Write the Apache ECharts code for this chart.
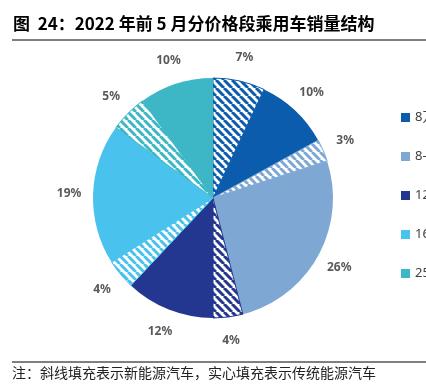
<!DOCTYPE html>
<html><head><meta charset="utf-8">
<script src="https://cdn.jsdelivr.net/npm/echarts@6/dist/echarts.min.js"></script>
<style>html,body{margin:0;padding:0;background:#fff}#c{width:426px;height:390px}</style>
</head><body><div id="c"></div>
<script>
const categories = ['8万以下', '8-12万', '12-16万', '16-25万', '25万以上'];
const nevShare = [7, 3, 4, 4, 5];
const iceShare = [10, 26, 12, 19, 10];
const colors = ['#0b5cad', '#7ea8d3', '#233690', '#4ac2ee', '#3db6c5'];
const titleText = '图  24：2022 年前 5 月分价格段乘用车销量结构';
const noteText = '注：斜线填充表示新能源汽车，实心填充表示传统能源汽车';

function hatch(color) {
  const s = 8;
  const cv = document.createElement('canvas');
  cv.width = s; cv.height = s;
  const g = cv.getContext('2d');
  g.fillStyle = '#ffffff';
  g.fillRect(0, 0, s, s);
  g.strokeStyle = color;
  g.lineWidth = 3;
  g.beginPath();
  for (let k = -1; k <= 1; k++) {
    g.moveTo(k * s, 0); g.lineTo(k * s + s, s);
  }
  g.stroke();
  return { image: cv, repeat: 'repeat' };
}

const data = [];
categories.forEach((c, i) => {
  data.push({ name: c + '新能源', value: nevShare[i],
    itemStyle: { color: hatch(colors[i]), borderColor: colors[i], borderWidth: 1 } });
  data.push({ name: c, value: iceShare[i], itemStyle: { color: colors[i] } });
});
const labelData = data.map(d => ({ name: d.name, value: d.value }));

const chart = echarts.init(document.getElementById('c'), null, { renderer: 'canvas' });
chart.setOption({
  animation: false,
  color: colors,
  title: {
    text: titleText, left: 8, top: 10,
    textStyle: { fontFamily: 'Noto Sans CJK SC', fontWeight: 'bold', fontSize: 17, color: '#000' }
  },
  legend: {
    data: categories, orient: 'vertical', left: 396, top: 106,
    itemWidth: 9, itemHeight: 9, itemGap: 26, icon: 'rect',
    textStyle: { fontFamily: 'Noto Sans, Noto Sans CJK SC', fontSize: 13, color: '#404040' },
    selectedMode: false
  },
  graphic: [
    { type: 'line', shape: { x1: 12, y1: 40, x2: 426, y2: 40 }, style: { stroke: '#000', lineWidth: 1 } },
    { type: 'line', shape: { x1: 12, y1: 362, x2: 426, y2: 362 }, style: { stroke: '#000', lineWidth: 1 } },
    { type: 'text', left: 12, top: 366,
      style: { text: noteText, font: '14px "Noto Sans CJK SC"', fill: '#222' } }
  ],
  series: [
    {
      type: 'pie', center: [213, 198], radius: [0, 120], startAngle: 90, clockwise: true,
      data: data, label: { show: false }, labelLine: { show: false }, silent: true
    },
    {
      type: 'pie', center: [213, 198], radius: [128, 154], startAngle: 90, clockwise: true,
      data: labelData, silent: true,
      itemStyle: { color: 'rgba(0,0,0,0)' },
      label: { show: true, position: 'inside', formatter: '{c}%',
        fontFamily: 'Noto Sans', fontWeight: 'bold', fontSize: 12, color: '#595959' },
      labelLine: { show: false }
    }
  ]
});
</script></body></html>
